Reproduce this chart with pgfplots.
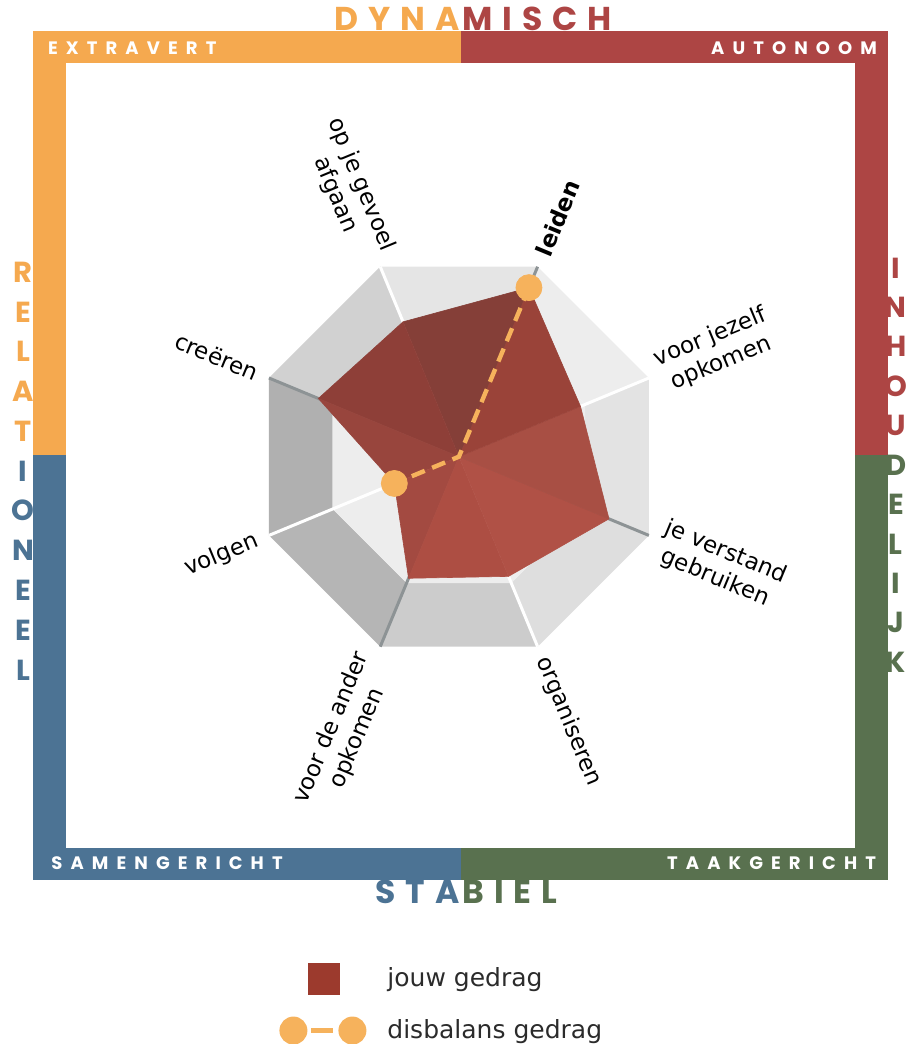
\documentclass[border=0pt]{standalone}
\usepackage{pgfplots}
\pgfplotsset{compat=1.18}
\usepackage{fontspec}
\setmainfont{DejaVu Sans}
\newfontfamily\titlefont{Poppins}[LetterSpace=30]
\newfontfamily\vfont{Poppins}
\newfontfamily\bandfont{Poppins}[LetterSpace=45]
\definecolor{cOrange}{HTML}{F5A94F}
\definecolor{cRed}{HTML}{AD4544}
\definecolor{cBlue}{HTML}{4C7394}
\definecolor{cGreen}{HTML}{59714F}
\definecolor{dotOrange}{HTML}{F6B25C}
\definecolor{legRed}{HTML}{9C3A2D}
\definecolor{spokeGray}{HTML}{8D9395}
\definecolor{legText}{HTML}{2B2B2B}
\definecolor{wA}{HTML}{853F38}
\definecolor{wB}{HTML}{8E3F38}
\definecolor{wC}{HTML}{98453D}
\definecolor{wD}{HTML}{A34A41}
\definecolor{wE}{HTML}{AD4E43}
\definecolor{wF}{HTML}{B05146}
\definecolor{wG}{HTML}{A84F44}
\definecolor{wH}{HTML}{9A4339}
\tikzset{
  lbl/.style={font=\fontsize{11.5}{14}\selectfont, text=black, inner sep=0pt, align=center},
  vl/.style={font={\vfont\bfseries\fontsize{14.5}{14.5}\selectfont}, inner sep=0pt, text height=10.2pt, text depth=0pt, anchor=center},
  bl/.style={font={\bandfont\bfseries\fontsize{9}{9}\selectfont}, text=white, inner sep=0pt, text height=6.3pt, text depth=0pt},
  tt/.style={inner sep=0pt, font={\titlefont\bfseries\fontsize{16.5}{16.5}\selectfont}},
}
\begin{document}
\begin{tikzpicture}
\begin{axis}[
  scale only axis, width=454.5pt, height=522pt,
  xmin=-223.2, xmax=218.9, ymin=-285.6, ymax=222.1,
  hide axis, clip=false,
  bg/.style={forget plot, draw=none, data cs=polar},
  legend style={at={(axis cs:-87.5,-245.8)}, anchor=north west, draw=none, fill=none,
    font=\fontsize{12.5}{15}\selectfont, text=legText, inner sep=0pt,
    row sep=10pt, column sep=10pt, nodes={inner sep=0pt}},
  legend cell align=left,
]
\coordinate (bbSW) at (rel axis cs:0,0);
\coordinate (bbNE) at (rel axis cs:1,1);
% legend entries
\addlegendimage{legend image code/.code={
  \path[draw=none, fill=none] (0pt,-8pt) rectangle (44pt,8pt);
  \fill[legRed, draw=none] (14.5pt,-8pt) rectangle (30.5pt,8pt);}}
\addlegendentry{jouw gedrag}
\addlegendimage{legend image code/.code={
  \path[draw=none, fill=none] (0pt,-8pt) rectangle (44pt,8pt);
  \draw[dotOrange, line width=2.5pt] (16pt,0pt) -- (27pt,0pt);
  \fill[dotOrange, draw=none] (7pt,0pt) circle (7pt) (36.5pt,0pt) circle (7pt);}}
\addlegendentry{disbalans gedrag}

% frame
\fill[cOrange] (axis cs:-207.2,191.5) rectangle (axis cs:1,207.1);
\fill[cRed] (axis cs:1,191.5) rectangle (axis cs:208.7,207.1);
\fill[cOrange] (axis cs:-207.2,1) rectangle (axis cs:-191.1,207.1);
\fill[cBlue] (axis cs:-207.2,-205.9) rectangle (axis cs:-191.1,1);
\fill[cRed] (axis cs:192.6,1) rectangle (axis cs:208.7,207.1);
\fill[cGreen] (axis cs:192.6,-205.9) rectangle (axis cs:208.7,1);
\fill[cBlue] (axis cs:-207.2,-205.9) rectangle (axis cs:1,-190.3);
\fill[cGreen] (axis cs:1,-205.9) rectangle (axis cs:208.7,-190.3);

% background bevelled octagon
\addplot[bg, fill=black!10] coordinates {(67.5,100) (112.5,100) (112.5,66.5) (67.5,66.5)};
\addplot[bg, fill=black!18] coordinates {(112.5,100) (157.5,100) (157.5,66.5) (112.5,66.5)};
\addplot[bg, fill=black!31] coordinates {(157.5,100) (202.5,100) (202.5,66.5) (157.5,66.5)};
\addplot[bg, fill=black!29] coordinates {(202.5,100) (247.5,100) (247.5,66.5) (202.5,66.5)};
\addplot[bg, fill=black!20] coordinates {(247.5,100) (292.5,100) (292.5,66.5) (247.5,66.5)};
\addplot[bg, fill=black!13] coordinates {(292.5,100) (337.5,100) (337.5,66.5) (292.5,66.5)};
\addplot[bg, fill=black!11] coordinates {(337.5,100) (382.5,100) (382.5,66.5) (337.5,66.5)};
\addplot[bg, fill=black!7] coordinates {(22.5,100) (67.5,100) (67.5,66.5) (22.5,66.5)};
\addplot[bg, fill=black!7] coordinates {(22.5,66.5) (67.5,66.5) (112.5,66.5) (157.5,66.5) (202.5,66.5) (247.5,66.5) (292.5,66.5) (337.5,66.5)};
% spokes
\addplot[forget plot, data cs=polar, white, line width=1.5pt] coordinates {(0,0) (112.5,100)};
\addplot[forget plot, data cs=polar, white, line width=1.5pt] coordinates {(0,0) (22.5,100)};
\addplot[forget plot, data cs=polar, white, line width=1.5pt] coordinates {(0,0) (292.5,100)};
\addplot[forget plot, data cs=polar, white, line width=1.5pt] coordinates {(0,0) (202.5,100)};
\addplot[forget plot, data cs=polar, spokeGray, line width=1.5pt] coordinates {(0,0) (67.5,100)};
\addplot[forget plot, data cs=polar, spokeGray, line width=1.5pt] coordinates {(0,0) (337.5,100)};
\addplot[forget plot, data cs=polar, spokeGray, line width=1.5pt] coordinates {(0,0) (247.5,100)};
\addplot[forget plot, data cs=polar, spokeGray, line width=1.5pt] coordinates {(0,0) (157.5,100)};

% jouw gedrag (wedges)
\addplot[forget plot, data cs=polar, fill=wA, draw=wA, line width=0.3pt] coordinates {(0,0) (67.5,89) (112.5,71)};
\addplot[forget plot, data cs=polar, fill=wB, draw=wB, line width=0.3pt] coordinates {(0,0) (112.5,71) (157.5,74)};
\addplot[forget plot, data cs=polar, fill=wC, draw=wC, line width=0.3pt] coordinates {(0,0) (157.5,74) (202.5,34)};
\addplot[forget plot, data cs=polar, fill=wD, draw=wD, line width=0.3pt] coordinates {(0,0) (202.5,34) (247.5,64)};
\addplot[forget plot, data cs=polar, fill=wE, draw=wE, line width=0.3pt] coordinates {(0,0) (247.5,64) (292.5,63)};
\addplot[forget plot, data cs=polar, fill=wF, draw=wF, line width=0.3pt] coordinates {(0,0) (292.5,63) (337.5,79)};
\addplot[forget plot, data cs=polar, fill=wG, draw=wG, line width=0.3pt] coordinates {(0,0) (337.5,79) (22.5,64)};
\addplot[forget plot, data cs=polar, fill=wH, draw=wH, line width=0.3pt] coordinates {(0,0) (22.5,64) (67.5,89)};

% disbalans gedrag
\addplot[forget plot, data cs=polar, dotOrange, line width=2.2pt, dash pattern=on 7pt off 4pt] coordinates {(67.5,89) (0,0) (202.5,34)};
\addplot[forget plot, data cs=polar, only marks, mark=*, mark size=6.5pt, dotOrange, mark options={solid, draw=none, fill=dotOrange}] coordinates {(67.5,89) (202.5,34)};

% category labels
\node[lbl, rotate=67.5, anchor=west, font=\fontsize{11.5}{14}\selectfont\bfseries] at (axis cs:40.56,97.93) {leiden};
\node[lbl, rotate=22.5, anchor=west] at (axis cs:97.93,40.56) {voor jezelf\\opkomen};
\node[lbl, rotate=-22.5, anchor=west] at (axis cs:97.93,-40.56) {je verstand\\gebruiken};
\node[lbl, rotate=-67.5, anchor=west] at (axis cs:40.56,-97.93) {organiseren};
\node[lbl, rotate=67.5, anchor=east] at (axis cs:-40.56,-97.93) {voor de ander\\opkomen};
\node[lbl, rotate=22.5, anchor=east] at (axis cs:-97.93,-40.56) {volgen};
\node[lbl, rotate=-22.5, anchor=east] at (axis cs:-97.93,40.56) {creëren};
\node[lbl, rotate=-67.5, anchor=east] at (axis cs:-40.56,97.93) {op je gevoel\\afgaan};

% titles
\node[tt, anchor=base east, text=cOrange] at (axis cs:0.5,207.4) {DYNA};
\node[tt, anchor=base west, text=cRed] at (axis cs:1.5,207.4) {MISCH};
\node[tt, anchor=base east, text=cBlue] at (axis cs:0.5,-217.2) {STA};
\node[tt, anchor=base west, text=cGreen] at (axis cs:1.5,-217.2) {BIEL};

% vertical titles
\node[vl, text=cOrange] at (axis cs:-212,89.8) {R};
\node[vl, text=cOrange] at (axis cs:-212,70.45) {E};
\node[vl, text=cOrange] at (axis cs:-212,51.1) {L};
\node[vl, text=cOrange] at (axis cs:-212,31.75) {A};
\node[vl, text=cOrange] at (axis cs:-212,12.4) {T};
\node[vl, text=cBlue] at (axis cs:-212,-6.95) {I};
\node[vl, text=cBlue] at (axis cs:-212,-26.3) {O};
\node[vl, text=cBlue] at (axis cs:-212,-45.65) {N};
\node[vl, text=cBlue] at (axis cs:-212,-65.0) {E};
\node[vl, text=cBlue] at (axis cs:-212,-84.35) {E};
\node[vl, text=cBlue] at (axis cs:-212,-103.7) {L};
\node[vl, text=cRed] at (axis cs:212.5,91.8) {I};
\node[vl, text=cRed] at (axis cs:212.5,72.63) {N};
\node[vl, text=cRed] at (axis cs:212.5,53.46) {H};
\node[vl, text=cRed] at (axis cs:212.5,34.29) {O};
\node[vl, text=cRed] at (axis cs:212.5,15.12) {U};
\node[vl, text=cGreen] at (axis cs:212.5,-4.05) {D};
\node[vl, text=cGreen] at (axis cs:212.5,-23.22) {E};
\node[vl, text=cGreen] at (axis cs:212.5,-42.39) {L};
\node[vl, text=cGreen] at (axis cs:212.5,-61.56) {I};
\node[vl, text=cGreen] at (axis cs:212.5,-80.73) {J};
\node[vl, text=cGreen] at (axis cs:212.5,-99.9) {K};

% band labels
\node[bl, anchor=west] at (axis cs:-200,198.8) {EXTRAVERT};
\node[bl, anchor=east] at (axis cs:203.5,198.8) {AUTONOOM};
\node[bl, anchor=west] at (axis cs:-198.4,-197.6) {SAMENGERICHT};
\node[bl, anchor=east] at (axis cs:203,-197.6) {TAAKGERICHT};
\end{axis}
\pgfresetboundingbox
\path[use as bounding box] (bbSW) rectangle (bbNE);
\end{tikzpicture}
\end{document}
